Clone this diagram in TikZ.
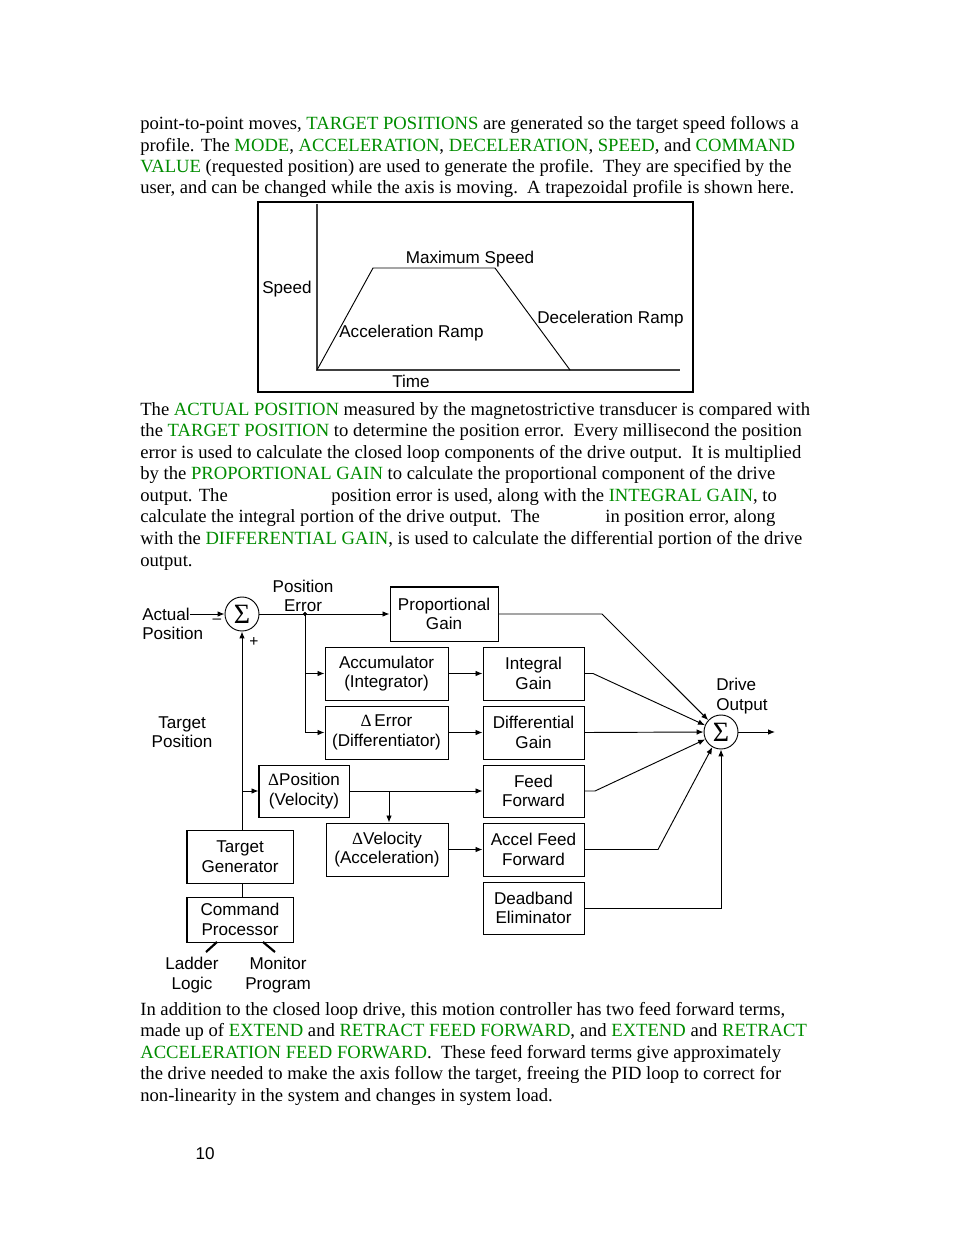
\documentclass[tikz,border=0pt]{standalone}
\usepackage{fontspec}
\setmainfont{Liberation Serif}
\setsansfont{Liberation Sans}
\usetikzlibrary{arrows.meta}
\definecolor{kwgreen}{RGB}{0,140,0}
\newlength{\dpx}\setlength{\dpx}{0.6415bp}
\newcommand{\gr}[1]{\textcolor{kwgreen}{#1}}
\newcommand{\dfont}{\sffamily\fontsize{11}{12.6}\selectfont}
\newcommand{\dlt}{{\rmfamily Δ}}
\tikzset{
  txt/.style={anchor=base west, inner sep=0pt, font=\fontsize{12}{14}\selectfont},
  lbl/.style={font=\dfont, align=center, inner sep=0pt},
  blk/.style={draw, line width=0.65pt, font=\dfont, align=center, inner sep=0pt},
  sumc/.style={draw, circle, line width=0.6pt, minimum size=34\dpx, inner sep=0pt,
    font=\rmfamily\fontsize{18}{18}\selectfont},
  wire/.style={line width=0.6pt},
  arr/.style={wire, -{Latex[length=4.5pt,width=3.6pt]}},
  leg/.style={line width=1.4pt},
}
\begin{document}
\begin{tikzpicture}[x=0.6415bp,y=-0.6415bp]
\useasboundingbox (0,0) rectangle (954,1235);

% text above the profile
\node[txt] (t1) at (140,130) {point-to-point moves, \gr{TARGET POSITIONS} are generated so the target speed follows a};
\node[txt] (t2) at (140,151.3) {profile. The \gr{MODE}, \gr{ACCELERATION}, \gr{DECELERATION}, \gr{SPEED}, and \gr{COMMAND}};
\node[txt] (t3) at (140,172.7) {\gr{VALUE} (requested position) are used to generate the profile.\ \ They are specified by the};
\node[txt] (t4) at (140,194) {user, and can be changed while the axis is moving.\ \ A trapezoidal profile is shown here.};

% speed profile
\draw[line width=0.7pt] (258,202) rectangle (693,392);
\draw[line width=1.1pt, black!75] (317,204) -- (317,370) -- (680,370);
\draw[wire] (317,370) -- (373,268) -- (495,268) -- (570,370);
\node[lbl] (spd) at (287,289) {Speed};
\node[lbl] (max) at (470,259) {Maximum Speed};
\node[lbl, anchor=west] (acc) at (339,333) {Acceleration Ramp};
\node[lbl, anchor=west] (dec) at (537,319) {Deceleration Ramp};
\node[lbl] (tim) at (411,381) {Time};

% text between
\node[txt] (u1) at (140,415) {The \gr{ACTUAL POSITION} measured by the magnetostrictive transducer is compared with};
\node[txt] (u2) at (140,436.6) {the \gr{TARGET POSITION} to determine the position error.\ \ Every millisecond the position};
\node[txt] (u3) at (140,458.1) {error is used to calculate the closed loop components of the drive output.\ \ It is multiplied};
\node[txt] (u4) at (140,479.7) {by the \gr{PROPORTIONAL GAIN} to calculate the proportional component of the drive};
\node[txt] (u5) at (140,501.3) {output. The};
\node[txt] (u5b) at (331,501.3) {position error is used, along with the \gr{INTEGRAL GAIN}, to};
\node[txt] (u6) at (140,522.9) {calculate the integral portion of the drive output.\ \ The};
\node[txt] (u6b) at (605,522.9) {in position error, along};
\node[txt] (u7) at (140,544.4) {with the \gr{DIFFERENTIAL GAIN}, is used to calculate the differential portion of the drive};
\node[txt] (u8) at (140,566) {output.};

% loop diagram
\node[sumc] (S1) at (242,614) {Σ};
\node[sumc] (S2) at (721,732) {Σ};
\node[lbl, align=left, anchor=west] (AP) at (142,624) {Actual\\Position};
\node[lbl] (TP) at (182,732) {Target\\Position};
\node[lbl] (PE) at (303,596) {Position\\Error};
\node[lbl, align=left, anchor=west] (DO) at (716,696) {Drive\\Output};
\node[lbl, font=\sffamily\fontsize{10}{10}\selectfont] (mi) at (217,621) {\textendash};
\node[lbl, font=\sffamily\fontsize{10}{10}\selectfont] (pl) at (254,642) {+};

\node[blk, minimum width=108\dpx, minimum height=54\dpx] (PG) at (444,614) {Proportional\\Gain};
\node[blk, minimum width=123\dpx, minimum height=53\dpx] (ACC) at (386.5,673.5) {Accumulator\\(Integrator)};
\node[blk, minimum width=123\dpx, minimum height=53\dpx] (DE) at (386.5,732.5) {\dlt\,Error\\(Differentiator)};
\node[blk, minimum width=101\dpx, minimum height=53\dpx] (IG) at (533.5,673.5) {Integral\\Gain};
\node[blk, minimum width=101\dpx, minimum height=53\dpx] (DG) at (533.5,732.5) {Differential\\Gain};
\node[blk, minimum width=90\dpx, minimum height=52\dpx] (DP) at (304,791) {\dlt Position\\(Velocity)};
\node[blk, minimum width=122\dpx, minimum height=53\dpx] (DV) at (387,849.5) {\dlt Velocity\\(Acceleration)};
\node[blk, minimum width=101\dpx, minimum height=52\dpx] (FF) at (533.5,791) {Feed\\Forward};
\node[blk, minimum width=101\dpx, minimum height=53\dpx] (AFF) at (533.5,849.5) {Accel Feed\\Forward};
\node[blk, minimum width=101\dpx, minimum height=52\dpx] (DB) at (533.5,908) {Deadband\\Eliminator};
\node[blk, minimum width=106\dpx, minimum height=53\dpx] (TG) at (240,856.5) {Target\\Generator};
\node[blk, minimum width=106\dpx, minimum height=45\dpx] (CP) at (240,919.5) {Command\\Processor};
\node[lbl] (LL) at (192,975) {Ladder\\Logic};
\node[lbl] (MP) at (278,975) {Monitor\\Program};

\coordinate (A0) at (190,614);
\coordinate (J1) at (305,614);
\coordinate (J2) at (242,791);
\coordinate (J3) at (389,791);
\coordinate (B1) at (602,614);
\coordinate (B2) at (593,673.5);
\coordinate (B3) at (595,791);
\coordinate (B4) at (658,849.5);
\coordinate (OUT) at (775,732);
\coordinate (L1) at (217,942);
\coordinate (L2) at (206,952);
\coordinate (M1) at (263,942);
\coordinate (M2) at (275,952);

\draw[arr] (A0) -- (S1.west);
\draw[arr] (TG.north -| S1) -- (S1.south);
\draw[arr] (J2) -- (DP.west);
\draw[wire] (S1.east) -- (J1);
\draw[arr] (J1) -- (PG.west);
\draw[fill] (J1) circle (1.8);
\draw[wire] (J1) -- (J1 |- DE.west);
\draw[arr] (J1 |- ACC.west) -- (ACC.west);
\draw[arr] (J1 |- DE.west) -- (DE.west);
\draw[arr] (ACC.east) -- (IG.west);
\draw[arr] (DE.east) -- (DG.west);
\draw[arr] (PG.east) -- (B1) -- (S2.137);
\draw[arr] (IG.east) -- (B2) -- (S2.157);
\draw[arr] (DG.east) -- (S2.west);
\draw[arr] (FF.east) -- (B3) -- (S2.205);
\draw[arr] (AFF.east) -- (B4) -- (S2.240);
\draw[arr] (DB.east) -- (DB.east -| S2) -- (S2.south);
\draw[arr] (S2.east) -- (OUT);
\draw[arr] (DP.east) -- (FF.west);
\draw[arr] (J3) -- (J3 |- DV.north);
\draw[arr] (DV.east) -- (AFF.west);
\draw[wire] (TG.south -| S1) -- (CP.north -| S1);
\draw[leg] (L1) -- (L2);
\draw[leg] (M1) -- (M2);

% text below
\node[txt] (v1) at (140,1015) {In addition to the closed loop drive, this motion controller has two feed forward terms,};
\node[txt] (v2) at (140,1036.5) {made up of \gr{EXTEND} and \gr{RETRACT FEED FORWARD}, and \gr{EXTEND} and \gr{RETRACT}};
\node[txt] (v3) at (140,1058) {\gr{ACCELERATION FEED FORWARD}.\ \ These feed forward terms give approximately};
\node[txt] (v4) at (140,1079.5) {the drive needed to make the axis follow the target, freeing the PID loop to correct for};
\node[txt] (v5) at (140,1101) {non-linearity in the system and changes in system load.};
\node[lbl] (pg) at (205,1154) {10};
\end{tikzpicture}
\end{document}
